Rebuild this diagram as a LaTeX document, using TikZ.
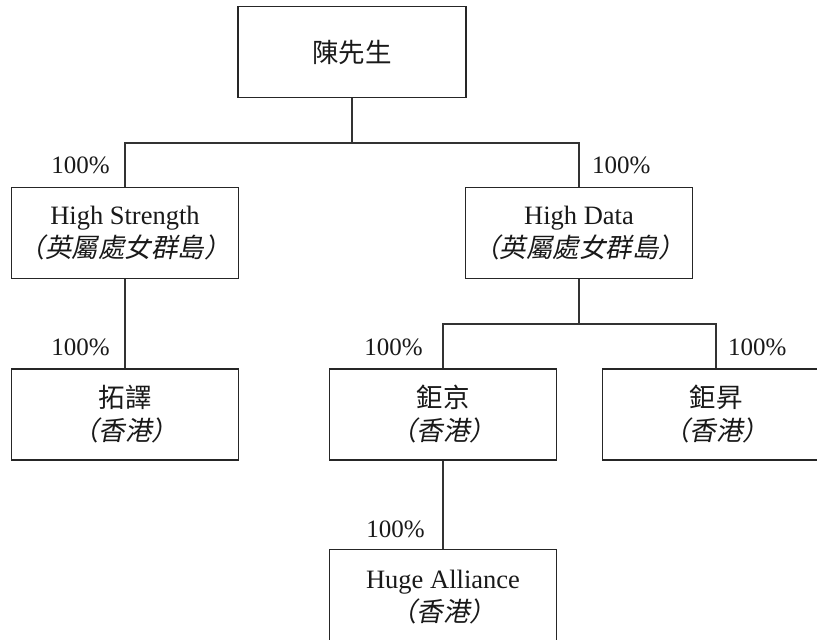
\documentclass[tikz,border=0pt]{standalone}
\usepackage{fontspec}
\setmainfont{Liberation Serif}
\newfontfamily\cjk{Noto Sans CJK TC}
\newfontfamily\cjkslant[FakeSlant=0.2]{Noto Sans CJK TC}
\usepackage{tikz}
\usetikzlibrary{positioning}
\tikzset{
    company/.style={
        rectangle,
        draw=black!85, line width=1.2pt,
        minimum width=227pt,
        minimum height=91pt,
        align=center,
        text=black!90,
        font={\fontsize{26.5pt}{33pt}\selectfont}
    },
    share/.style={
        inner sep=0pt,
        text=black!90,
        font={\fontsize{25pt}{30pt}\selectfont}
    },
    link/.style={draw=black!80, line width=1.4pt},
}

\begin{document}
\begin{tikzpicture}[x=1pt,y=-1pt]
    \useasboundingbox (0,0) rectangle (817,640);
    \clip (0,0) rectangle (817,640);

    % Owner and the two BVI holding companies
    \node[company, minimum width=228pt] (chen) at (352,52) {\cjk 陳先生};
    \node[company] (strength) at (125,233) {High Strength\\{\cjkslant （英屬處女群島）}};
    \node[company] (data) at (579,233) {High Data\\{\cjkslant （英屬處女群島）}};

    % Hong Kong subsidiaries
    \node[company] (tuoyi) at (125,414.5) {{\cjk 拓譯}\\{\cjkslant （香港）}};
    \node[company] (jujing) at (443,414.5) {{\cjk 鉅京}\\{\cjkslant （香港）}};
    \node[company] (jusheng) at (716,414.5) {{\cjk 鉅昇}\\{\cjkslant （香港）}};
    \node[company, minimum height=96pt] (huge) at (443,597.5) {Huge Alliance\\{\cjkslant （香港）}};

    % Branch points of the tree
    \coordinate (split1) at (352,143);
    \coordinate (split2) at (579,324);

    \draw[link] (chen.south) -- (split1);
    \draw[link] (strength.north) |- (split1) -| (data.north);
    \draw[link] (strength.south) -- (tuoyi.north);
    \draw[link] (data.south) -- (split2);
    \draw[link] (jujing.north) |- (split2) -| (jusheng.north);
    \draw[link] (jujing.south) -- (huge.north);

    % Shareholdings
    \node[share, anchor=base east] (pstrength) at (110,173) {100\%};
    \node[share, anchor=base west] (pdata) at (592,173) {100\%};
    \node[share, anchor=base east] (ptuoyi) at (110,355) {100\%};
    \node[share, anchor=base east] (pjujing) at (423,355) {100\%};
    \node[share, anchor=base west] (pjusheng) at (728,355) {100\%};
    \node[share, anchor=base east] (phuge) at (425,537) {100\%};
\end{tikzpicture}
\end{document}
